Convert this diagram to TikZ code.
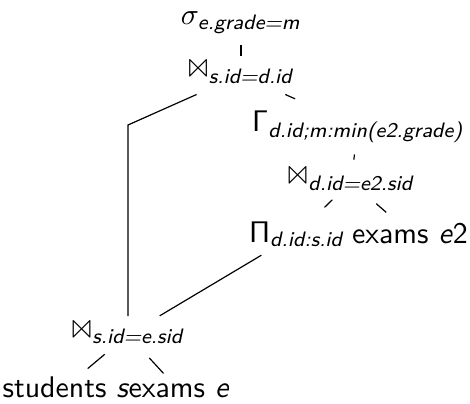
\documentclass[tikz,border=0pt]{standalone}
\usepackage{amsmath}
\usepackage{latexsym}
\usepackage{tikz}
\newcommand{\att}[1]{\textsf{\textit{#1}}}
\newcommand{\jn}[1]{$\Join_{\att{#1}}$}
\tikzset{
  opnode/.style={inner sep=0pt,font=\sffamily,anchor=base},
  relnode/.style={opnode},
  link/.style={line width=0.4pt,black},
}

\begin{document}
\begin{tikzpicture}[x=0.335pt,y=-0.335pt]
  \useasboundingbox (0,0) rectangle (470,403);
  \node[opnode] (sel) at (241,25) {$\sigma_{\att{e.grade=m}}$};
  \node[opnode] (j1) at (241,79) {\jn{s.id=d.id}};
  \node[opnode] (gam) at (358,132) {$\mathsf{\Gamma}_{\att{d.id;m:min(e2.grade)}}$};
  \node[opnode] (j2) at (351,186) {\jn{d.id=e2.sid}};
  \node[opnode] (pi) at (297,242) {$\mathsf{\Pi}_{\att{d.id:s.id}}$};
  \node[relnode] (ex2) at (410,243) {exams \att{e}2};
  \coordinate (kink) at (128,125);
  \node[opnode] (j3) at (128,339) {\jn{s.id=e.sid}};
  \node[relnode] (stu) at (66,397) {students \att{s}};
  \node[relnode] (exe) at (179,397) {exams \att{e}};
  \draw[link,shorten <=3.6pt,shorten >=3pt] (sel) -- (j1);
  \draw[link,shorten <=8.4pt,shorten >=3pt] (j1) -- (kink) -- (j3);
  \draw[link,shorten <=8.4pt,shorten >=9.7pt] (j1) -- (gam);
  \draw[link,shorten <=3.8pt,shorten >=4.2pt] (gam) -- (j2);
  \draw[link,shorten <=4.1pt,shorten >=6.4pt] (j2) -- (pi);
  \draw[link,shorten <=6.3pt,shorten >=5pt] (j2) -- (ex2);
  \draw[link,shorten <=5.2pt,shorten >=6.1pt] (pi) -- (j3);
  \draw[link,shorten <=5.2pt,shorten >=3.7pt] (j3) -- (stu);
  \draw[link,shorten <=6.2pt,shorten >=4.2pt] (j3) -- (exe);
\end{tikzpicture}
\end{document}
